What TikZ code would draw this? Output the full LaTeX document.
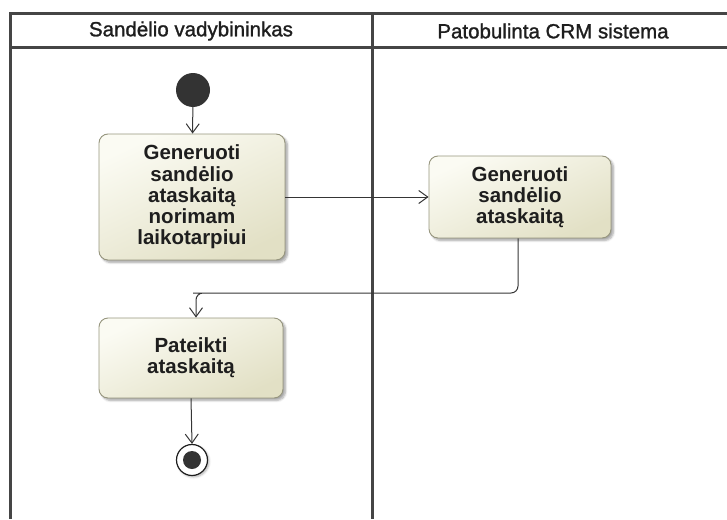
\documentclass[tikz,border=0pt]{standalone}
\usepackage{fontspec}
\setmainfont{Liberation Sans}
\newfontface\lanefont{Liberation Sans}[RawFeature={embolden=1.3}]
\usetikzlibrary{arrows.meta,shadows.blur}
\definecolor{lanegray}{HTML}{454545}
\definecolor{actfill1}{HTML}{FBFBF3}
\definecolor{actfill2}{HTML}{E2E0C5}
\definecolor{actborder}{HTML}{96957E}
\definecolor{ink}{HTML}{1E1E1E}
\definecolor{dotfill}{HTML}{333333}
\tikzset{
  lane/.style={draw=lanegray, line width=3pt},
  lanetitle/.style={font=\lanefont\fontsize{20.5}{22}\selectfont, text=ink},
  action/.style={draw=actborder, line width=0.9pt, rounded corners=9pt,
    top color=actfill1, bottom color=actfill2, shading angle=25,
    blur shadow={shadow xshift=2.5pt, shadow yshift=-2.5pt, shadow blur steps=6, shadow opacity=35},
    align=center, text=ink, inner sep=0pt,
    font=\bfseries\fontsize{20.5}{21.3}\selectfont},
  flow/.style={draw=ink!90, line width=1pt, -{Straight Barb[length=9pt,width=13pt,line width=1pt]}},
  startnode/.style={circle, fill=dotfill, minimum size=34pt, inner sep=0pt},
  endnode/.style={circle, draw=ink, line width=1.2pt, fill=white, minimum size=31pt, inner sep=0pt,
    blur shadow={shadow xshift=1.5pt, shadow yshift=-1.5pt, shadow blur steps=4, shadow opacity=30}},
}
\begin{document}
\begin{tikzpicture}[x=1pt, y=-1pt]
  \useasboundingbox (0,0) rectangle (727,519);

  % swimlane frame
  \coordinate (tl) at (10,14);
  \coordinate (tr) at (727,14);
  \coordinate (hl) at (10,48);
  \coordinate (hr) at (727,48);
  \coordinate (bl) at (10,519);
  \coordinate (ml) at (372,14);
  \coordinate (mb) at (372,519);
  \draw[lane] (tr) -- (tl) -- (bl);
  \draw[lane] (hl) -- (hr);
  \draw[lane] (ml) -- (mb);

  \node[lanetitle] (lane1) at (191,31) {Sandėlio vadybininkas};
  \node[lanetitle] (lane2) at (553,31) {Patobulinta CRM sistema};

  % activity nodes
  \node[startnode] (start) at (193,90) {};
  \node[action, minimum width=186pt, minimum height=126pt] (gen1) at (192,197)
    {Generuoti\\sandėlio\\ataskaitą\\norimam\\laikotarpiui};
  \node[action, minimum width=182pt, minimum height=82pt] (gen2) at (520,197)
    {Generuoti\\sandėlio\\ataskaitą};
  \node[action, minimum width=184pt, minimum height=80pt] (rep) at (191,358)
    {Pateikti\\ataskaitą};
  \node[endnode] (stop) at (192,460) {};
  \fill[dotfill] (stop.center) circle (9pt);

  % control flows
  \draw[flow] (start) -- (gen1);
  \draw[flow] (gen1) -- (gen2);
  \coordinate (g2out) at ([xshift=-2pt]gen2.south);
  \coordinate (repin) at ([xshift=5pt]rep.north);
  \draw[flow, rounded corners=7pt] (g2out) |- (200,293) -| (repin);
  \draw[flow] (rep.south) -- (stop.north);
\end{tikzpicture}
\end{document}
